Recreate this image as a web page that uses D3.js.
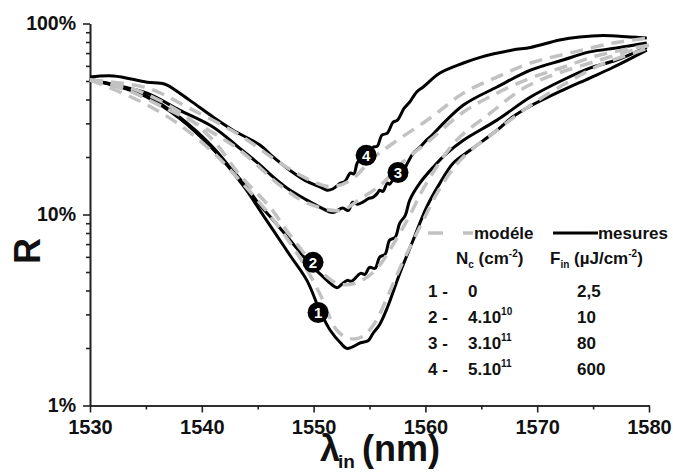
<!doctype html>
<html>
<head>
<script src="https://d3js.org/d3.v7.min.js"></script>
<style>
    body { margin: 0; background: #fff; }
    svg text { font-family: "Liberation Sans", Arial, sans-serif; font-weight: bold; fill: #111; }
    .axis path, .axis line { stroke: #222; stroke-width: 1.6; }
</style>
</head>
<body>
<script>
    // wavelength (nm) / reflectivity (%)
    const mes1 = [[1530,50.6],[1532.7,46.5],[1535.1,41.2],[1538,31.9],[1541,22],[1542.5,17.4],[1544,13.4],[1545.2,10.5],
        [1546.4,8.26],[1547.9,6.1],[1549.4,4.52],[1550.6,3.1],[1551.5,2.47],[1552.4,2.13],[1553,1.99],[1554.2,2.13],
        [1554.9,2.19],[1555.3,2.38],[1555.9,2.65],[1556.6,3.26],[1557.7,4.9],[1558.9,7.33],[1560.1,10.9],[1561.3,14.6],
        [1562.5,18.6],[1564,21.7],[1566.4,27.6],[1567.8,32.4],[1569.4,37],[1572.3,44.8],[1574.7,51.8],[1576.8,59],[1579.8,72.6]];
    const mes2 = [[1530,50.6],[1532.7,47],[1535.1,41.7],[1538,32.4],[1541,22.5],[1542.5,17.7],[1544,13.9],[1545.2,11.2],
        [1546.4,9.33],[1547.9,7.33],[1549.4,5.75],[1550.6,4.87],[1552.1,4.14],[1552.5,4.3],[1553,4.52],[1553.4,4.47],
        [1554.2,4.92],[1554.6,4.86],[1555,5.29],[1555.5,5.23],[1555.9,5.97],[1556.4,6.2],[1556.8,7.33],[1557.3,7.6],
        [1557.7,9],[1558.2,9.9],[1558.6,11.9],[1559.5,14.6],[1560.7,17.7],[1561.9,20.9],[1563.4,24.5],[1566.4,31.2],
        [1569.4,41.2],[1572.3,50.6],[1574.7,58.4],[1577.1,64.4],[1579.8,75.3]];
    const mes3 = [[1530,51.2],[1531.5,48.7],[1535.1,43.2],[1538,35.2],[1541,28.7],[1543.4,22.2],[1545.2,18.2],[1546.4,15.7],
        [1547.9,13.4],[1549.4,11.9],[1550.6,10.9],[1551.7,10.25],[1552.6,10.8],[1553.1,10.5],[1553.5,11.6],[1553.9,11.3],
        [1554.4,11.6],[1554.9,12.1],[1555.3,12.3],[1555.7,12.9],[1555.9,13.4],[1556.2,13.2],[1556.6,14.6],[1556.8,14.4],
        [1557.5,16.6],[1558,16.9],[1558.4,18.6],[1558.9,20.9],[1559.5,22.5],[1560.1,24.5],[1560.4,25.4],[1563.4,37.4],
        [1566.4,46.5],[1569.4,57],[1572.3,64.4],[1574.7,71],[1577.1,74.4],[1579.8,79]];
    const mes4 = [[1530,52.4],[1532.1,53.1],[1535.1,49.3],[1536.3,48.7],[1536.9,47.6],[1538.9,39.7],[1541,32.4],[1542.8,27.6],
        [1545.2,23.1],[1546.4,19.95],[1547.9,17],[1549.4,14.9],[1550.6,13.9],[1551.2,13.4],[1551.7,13.6],[1552.4,14.6],
        [1552.8,14.9],[1553.3,16.5],[1553.6,16.3],[1553.9,18.6],[1554.4,20.4],[1554.9,20.9],[1555.3,22.5],[1555.7,22.8],
        [1556.1,26],[1556.6,26.7],[1557.1,30.4],[1557.5,31.2],[1558.1,36],[1558.6,38.8],[1559.2,43.7],[1559.8,46.5],
        [1561.3,55],[1563.4,62.1],[1564.9,66.5],[1567.8,72.6],[1569.4,74.9],[1572,81.9],[1573.8,85],[1575.9,86.5],
        [1578.3,85],[1579.8,84]];

    const mod1 = [[1530,50.6],[1532.7,43.7],[1535.1,37.5],[1537.8,30.1],[1540.8,21.7],[1543.4,15.1],[1546.1,9.9],[1548.8,5.9],
        [1550.6,3.8],[1552.1,2.47],[1553.3,2.24],[1554.4,2.3],[1555.5,2.72],[1556.6,3.7],[1557.7,5.2],[1558.9,7.3],
        [1559.8,9.3],[1561.1,13.1],[1563.1,19.2],[1566.4,27.6],[1569.4,37.3],[1572.3,47.6],[1575.6,60.5],[1580,74.4]];
    const mod2 = [[1530,50.6],[1533.6,46],[1538,34.5],[1541,24.5],[1543.4,16.1],[1546.1,10.9],[1547.9,7.8],[1549.9,5.6],
        [1552.1,4.36],[1553.7,4.36],[1555.5,5.1],[1557.5,7.6],[1558.6,9.9],[1560.1,14.6],[1562.8,24.5],[1565.8,33.9],
        [1568.5,44.8],[1570.9,52.4],[1575.6,64.4],[1580,77]];
    const mod3 = [[1530,50.6],[1533.3,44.8],[1536.5,36.6],[1540.1,28.7],[1543.4,21.7],[1547,14.2],[1549.4,11.5],
        [1552.4,10.5],[1554.2,12.1],[1556.2,14.6],[1557.7,18.2],[1560.4,24.5],[1563.4,34.4],[1566.4,43.2],[1569.4,51.8],
        [1572.3,59],[1575.6,68.4],[1580,77]];
    const mod4 = [[1530,50.6],[1535.1,46],[1538.9,36],[1543.4,26],[1547,18.6],[1549.7,15.1],[1551.5,14],[1553.3,15.1],
        [1555.3,19.7],[1557.1,23.6],[1560.4,31.9],[1563.4,43.2],[1566.4,52.4],[1569.4,62.1],[1572.9,70],[1576.8,79],[1580,84]];

    const markers = [[1, 1550.4, 3.07], [2, 1549.95, 5.62], [3, 1557.55, 16.6], [4, 1554.7, 20.4]];

    const xTicks = [1530, 1540, 1550, 1560, 1570, 1580];
    const xMinor = [1535, 1545, 1555, 1565, 1575];
    const yTicks = [1, 10, 100];
    const yTickLabels = ["1%", "10%", "100%"];
    const yMinor = [2, 3, 4, 5, 6, 7, 8, 9, 20, 30, 40, 50, 60, 70, 80, 90];

    const legendRows = [["1 -", "0", "", "2,5"], ["2 -", "4.10", "10", "10"], ["3 -", "3.10", "11", "80"], ["4 -", "5.10", "11", "600"]];

    const width = 673, height = 473;
    const x = d3.scaleLinear().domain([1530, 1580]).range([90, 649]);
    const y = d3.scaleLog().domain([1, 100]).range([405.5, 23.5]);

    const svg = d3.select("body").append("svg")
        .attr("width", width).attr("height", height);

    // axes
    svg.append("g").attr("class", "axis")
        .attr("transform", "translate(0,405.5)")
        .call(d3.axisBottom(x).tickValues(xMinor).tickSize(4).tickSizeOuter(0).tickFormat(""));
    const gx = svg.append("g").attr("class", "axis")
        .attr("transform", "translate(0,405.5)")
        .call(d3.axisBottom(x).tickValues(xTicks).tickSize(7).tickSizeOuter(0).tickPadding(7).tickFormat(d3.format("d")));
    gx.selectAll("text").style("font-size", "20px").attr("fill", "#111");

    svg.append("g").attr("class", "axis")
        .attr("transform", "translate(90,0)")
        .call(d3.axisLeft(y).tickValues(yMinor).tickSize(4).tickSizeOuter(0).tickFormat(""));
    const gy = svg.append("g").attr("class", "axis")
        .attr("transform", "translate(90,0)")
        .call(d3.axisLeft(y).tickValues(yTicks).tickSize(7).tickSizeOuter(0).tickPadding(7)
            .tickFormat((d, i) => yTickLabels[i]));
    gy.selectAll("text").style("font-size", "19.5px").attr("fill", "#111");

    // axis titles
    svg.append("text")
        .attr("transform", "translate(40,251) rotate(-90)")
        .attr("text-anchor", "middle")
        .style("font-size", "36px")
        .text("R");

    const xt = svg.append("text").attr("y", 461).style("font-size", "36px");
    xt.append("tspan").attr("x", 320).text("λ");
    xt.append("tspan").attr("x", 338).attr("y", 468).style("font-size", "19px").text("in");
    xt.append("tspan").attr("x", 362).attr("y", 461).text("(nm)");

    // curves
    const line = d3.line()
        .x(d => x(d[0]))
        .y(d => y(d[1]))
        .curve(d3.curveCatmullRom.alpha(0.5));

    [mes1, mes2, mes3, mes4].forEach(s => {
        svg.append("path").datum(s)
            .attr("d", line)
            .attr("fill", "none")
            .attr("stroke", "#000")
            .attr("stroke-width", 3)
            .attr("stroke-linejoin", "round");
    });

    [mod1, mod2, mod3, mod4].forEach(s => {
        svg.append("path").datum(s)
            .attr("d", line)
            .attr("fill", "none")
            .attr("stroke", "#c2c2c2")
            .attr("stroke-width", 3.5)
            .attr("stroke-dasharray", "13,8");
    });

    // numbered markers
    const mk = svg.selectAll("g.mk").data(markers).enter().append("g")
        .attr("transform", d => "translate(" + x(d[1]) + "," + y(d[2]) + ")");
    mk.append("circle").attr("r", 10.5).attr("fill", "#000");
    mk.append("text")
        .attr("text-anchor", "middle")
        .attr("dy", "0.36em")
        .style("font-size", "15px")
        .style("fill", "#fff")
        .text(d => d[0]);

    // legend
    const fs = "17px", sub = "10px";
    svg.append("line").attr("x1", 428).attr("x2", 473).attr("y1", 233).attr("y2", 233)
        .attr("stroke", "#c2c2c2").attr("stroke-width", 3.5).attr("stroke-dasharray", "15,20");
    svg.append("text").attr("x", 474).attr("y", 239).style("font-size", fs).text("modéle");
    svg.append("line").attr("x1", 553).attr("x2", 598).attr("y1", 233).attr("y2", 233)
        .attr("stroke", "#000").attr("stroke-width", 3);
    svg.append("text").attr("x", 598).attr("y", 239).style("font-size", fs).text("mesures");

    const h1 = svg.append("text").attr("x", 456).attr("y", 264).style("font-size", fs);
    h1.append("tspan").text("N");
    h1.append("tspan").attr("dy", 4).style("font-size", sub).text("c");
    h1.append("tspan").attr("dy", -4).text(" (cm");
    h1.append("tspan").attr("dy", -7).style("font-size", sub).text("-2");
    h1.append("tspan").attr("dy", 7).text(")");

    const h2 = svg.append("text").attr("x", 550).attr("y", 264).style("font-size", fs);
    h2.append("tspan").text("F");
    h2.append("tspan").attr("dy", 4).style("font-size", sub).text("in");
    h2.append("tspan").attr("dy", -4).text(" (µJ/cm");
    h2.append("tspan").attr("dy", -7).style("font-size", sub).text("-2");
    h2.append("tspan").attr("dy", 7).text(")");

    legendRows.forEach((r, i) => {
        const yy = 297 + i * 26;
        svg.append("text").attr("x", 428).attr("y", yy).style("font-size", fs).text(r[0]);
        const t = svg.append("text").attr("x", 468).attr("y", yy).style("font-size", fs);
        t.append("tspan").text(r[1]);
        if (r[2]) t.append("tspan").attr("dy", -8).style("font-size", sub).text(r[2]);
        svg.append("text").attr("x", 577).attr("y", yy).style("font-size", fs).text(r[3]);
    });
</script>
</body>
</html>
